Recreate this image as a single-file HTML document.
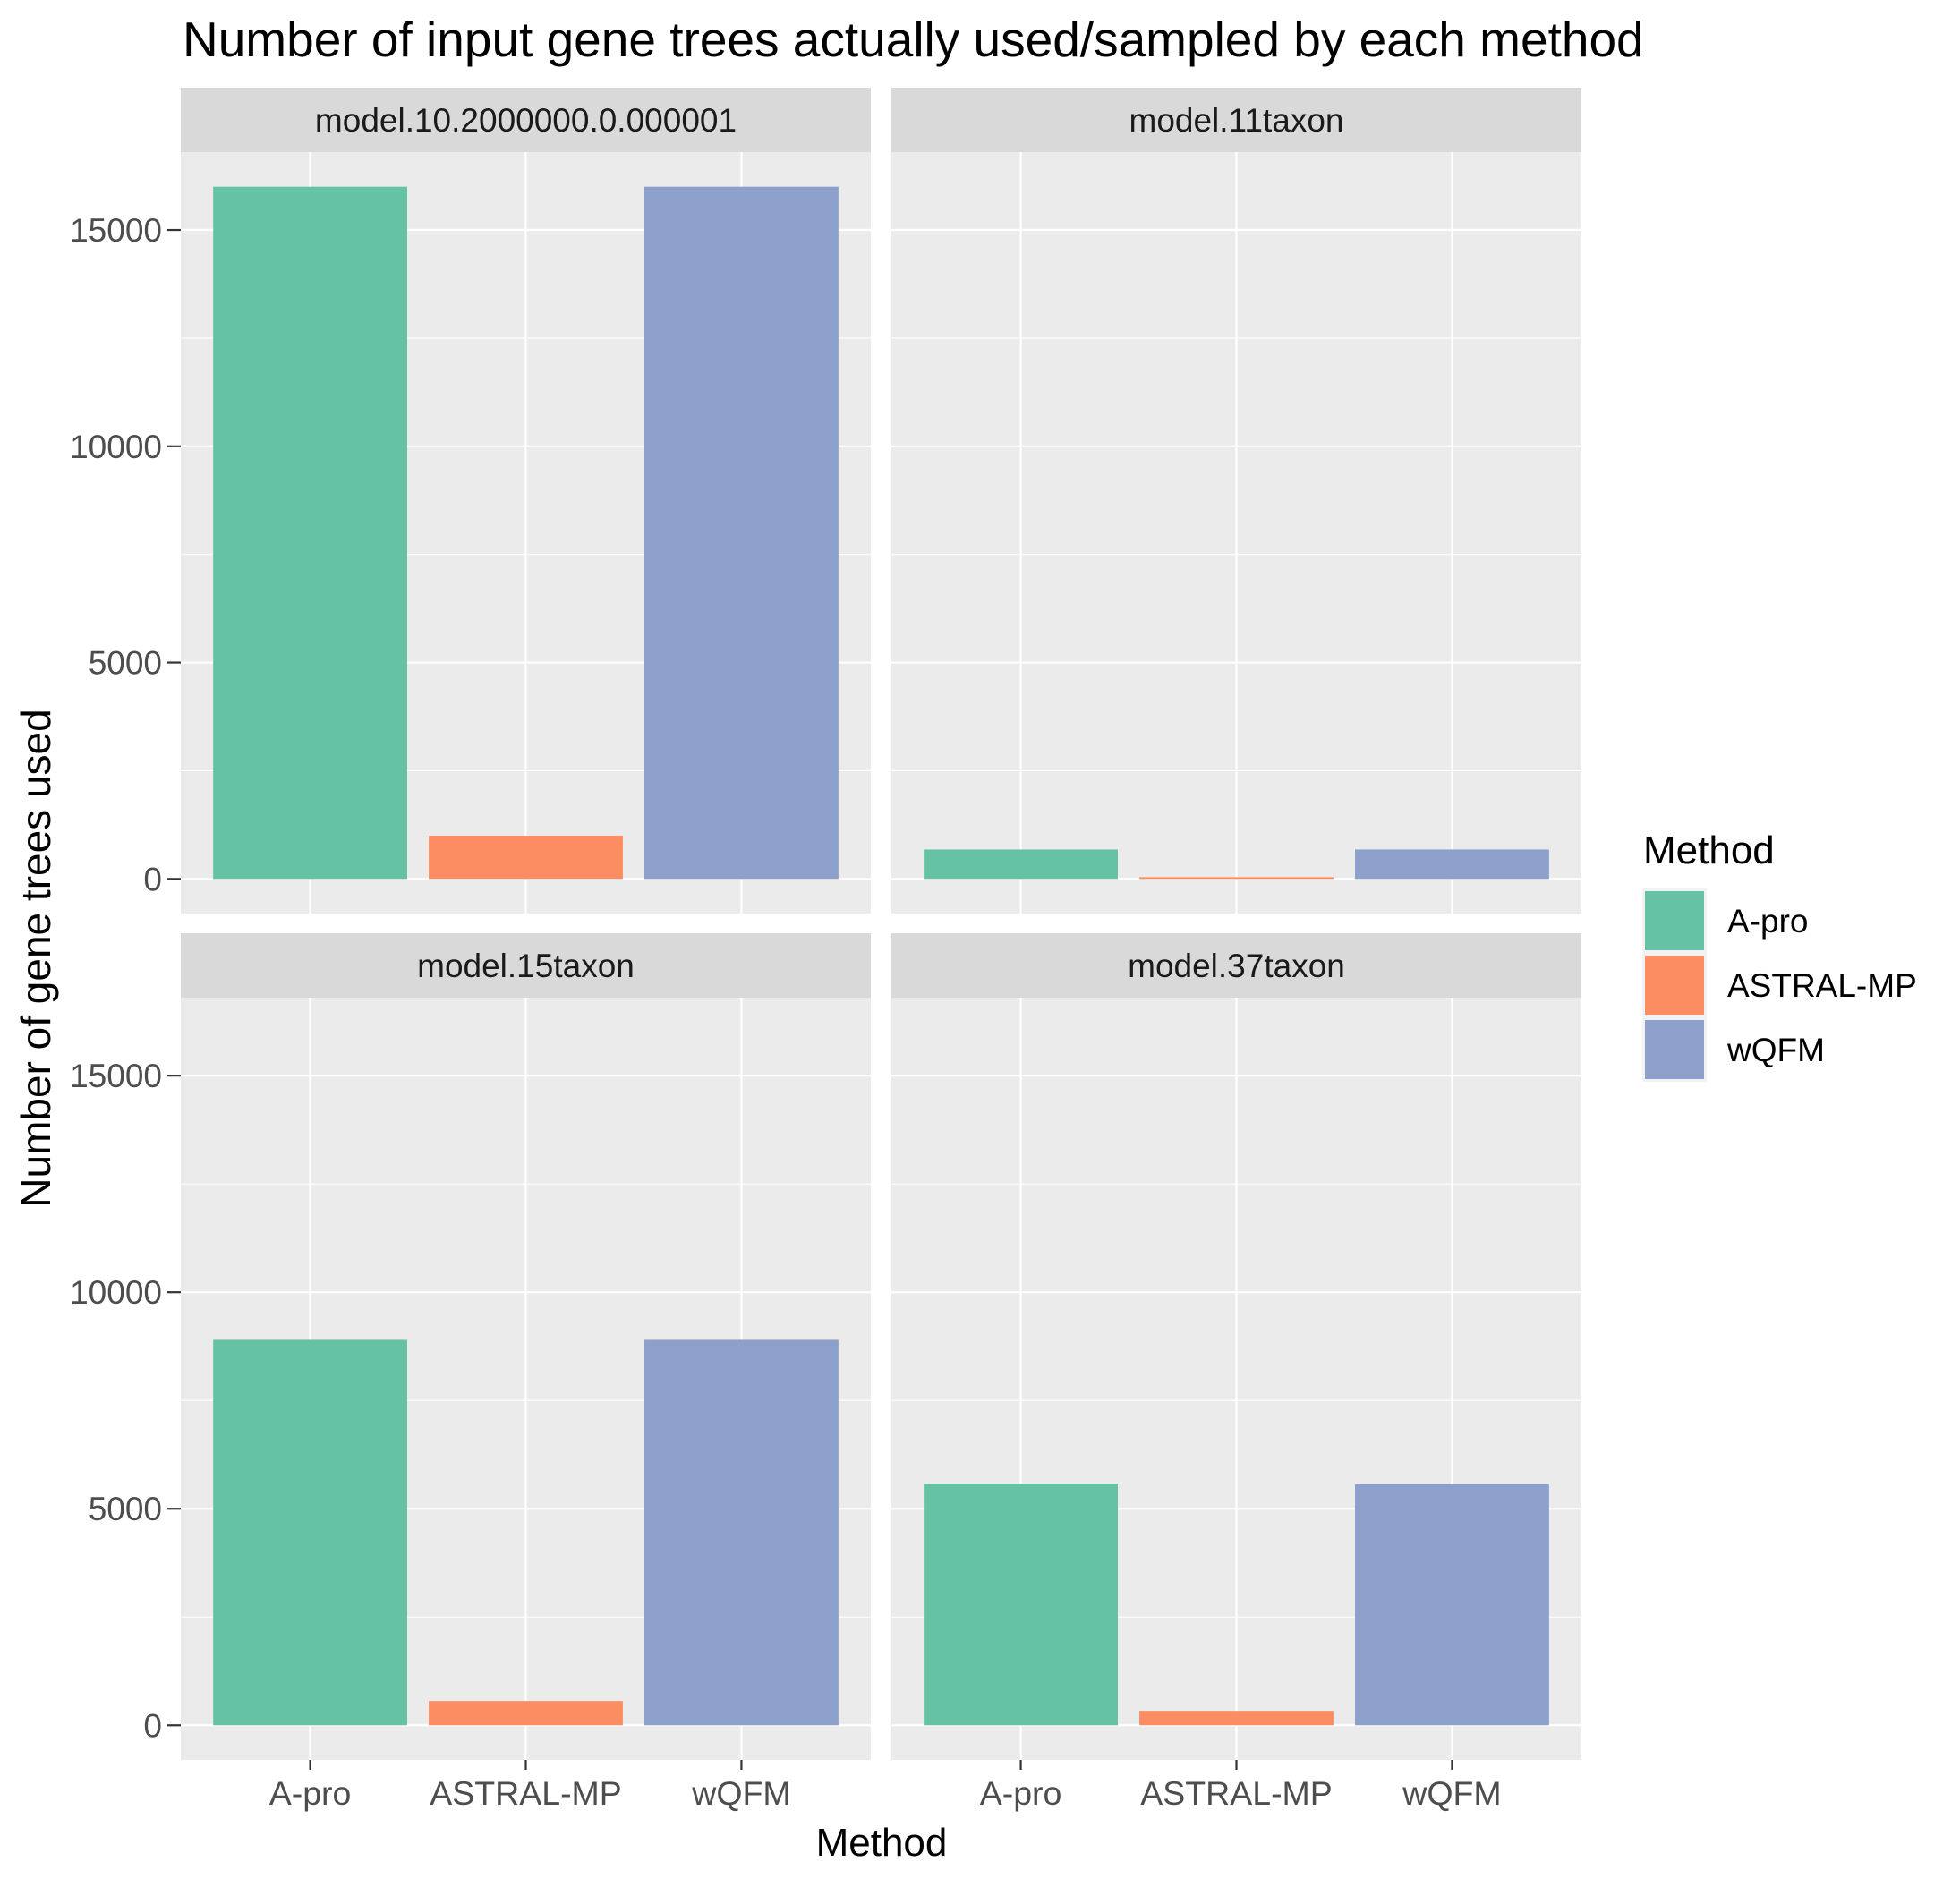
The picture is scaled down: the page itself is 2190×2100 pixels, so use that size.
<!DOCTYPE html>
<html><head><meta charset="utf-8"><style>
html,body{margin:0;padding:0;background:#fff}
svg{display:block;font-family:"Liberation Sans",Arial,sans-serif}
</style></head><body>
<svg id="chart" width="2190" height="2100" viewBox="0 0 2190 2100" xmlns="http://www.w3.org/2000/svg">
<rect width="2190" height="2100" fill="#fff"/>
<text x="204" y="63" font-size="55" fill="#000">Number of input gene trees actually used/sampled by each method</text>
<text transform="translate(56,1071) rotate(-90)" text-anchor="middle" font-size="46" fill="#000">Number of gene trees used</text>
<text x="985" y="2074" text-anchor="middle" font-size="44" fill="#000">Method</text>
<g id="panels"></g>
<g>
<text x="1836" y="965" font-size="44" fill="#000">Method</text>
<g id="legend-keys"></g>
</g>
</svg>
<script>
const facets = ["model.10.2000000.0.000001","model.11taxon","model.15taxon","model.37taxon"];
const methods = ["A-pro","ASTRAL-MP","wQFM"];
const colors = ["#66c2a5","#fc8d62","#8da0cb"];
const aproValues = [16000, 680, 8900, 5580];
const astralValues = [1000, 40, 560, 333];
const wqfmValues = [16000, 680, 8900, 5570];
const yTicks = [0, 5000, 10000, 15000];
const yMinor = [2500, 7500, 12500];
const yDomain = [-800, 16800];

const NS = "http://www.w3.org/2000/svg";
const series = [aproValues, astralValues, wqfmValues];
const panelX = [202, 996], panelW = 771;
const panelRows = [{strip:98, top:170, bottom:1021},{strip:1043, top:1115, bottom:1967}];
function mk(tag, attrs, parent){const e=document.createElementNS(NS,tag);for(const k in attrs)e.setAttribute(k,attrs[k]);parent.appendChild(e);return e;}
const root = document.getElementById("panels");
facets.forEach((f, fi) => {
  const col = fi % 2, row = Math.floor(fi / 2);
  const x0 = panelX[col], pr = panelRows[row];
  const yScale = v => pr.bottom - (v - yDomain[0]) / (yDomain[1] - yDomain[0]) * (pr.bottom - pr.top);
  const band = panelW / (methods.length + 0.2);
  const xScale = i => x0 + band * 0.6 + band * i;
  const g = mk("g", {}, root);
  
  
  const bg = mk("rect", {x:x0, y:pr.top, width:panelW, height:pr.bottom-pr.top, fill:"#ebebeb"}, g);
  
  
  yMinor.forEach(v => { const l = mk("line",{x1:x0,x2:x0+panelW,y1:yScale(v),y2:yScale(v),stroke:"#fff","stroke-width":1.1},g);
    
     });
  yTicks.forEach(v => { const l = mk("line",{x1:x0,x2:x0+panelW,y1:yScale(v),y2:yScale(v),stroke:"#fff","stroke-width":2.2},g);
    
     });
  methods.forEach((m, i) => { const l = mk("line",{x1:xScale(i),x2:xScale(i),y1:pr.top,y2:pr.bottom,stroke:"#fff","stroke-width":2.2},g);
    
     });
  methods.forEach((m, i) => {
    const v = series[i][fi];
    const bw = band * 0.9;
    const r = mk("rect",{x:xScale(i)-bw/2, y:yScale(v), width:bw, height:yScale(0)-yScale(v), fill:colors[i]}, g);
    
    
  });
  const st = mk("rect",{x:x0, y:pr.strip, width:panelW, height:pr.top-pr.strip, fill:"#d9d9d9"}, g);
  
  
  const stt = mk("text",{x:x0+panelW/2, y:(pr.strip+pr.top)/2+13, "text-anchor":"middle", "font-size":37, fill:"#1a1a1a"}, g);
  stt.textContent = f;
  
  
  if (col === 0) {
    yTicks.forEach(v => {
      const t = mk("line",{x1:187,x2:202,y1:yScale(v),y2:yScale(v),stroke:"#333","stroke-width":2.2},g);
      
      
      const tx = mk("text",{x:181, y:yScale(v)+13, "text-anchor":"end", "font-size":37, fill:"#4d4d4d"}, g);
      tx.textContent = v;
      
      
    });
  }
  if (row === 1) {
    methods.forEach((m, i) => {
      const t = mk("line",{x1:xScale(i),x2:xScale(i),y1:pr.bottom,y2:pr.bottom+11,stroke:"#333","stroke-width":2.2},g);
      
      
      const tx = mk("text",{x:xScale(i), y:2017, "text-anchor":"middle", "font-size":37.5, fill:"#4d4d4d"}, g);
      tx.textContent = m;
      
      
    });
  }
});
const lk = document.getElementById("legend-keys");
methods.forEach((m, i) => {
  const y = 993 + i * 72;
  const kb = mk("rect",{x:1835, y:y, width:72, height:72, fill:"#f2f2f2"}, lk);
  
  
  const k = mk("rect",{x:1838, y:y+3, width:66, height:66, fill:colors[i]}, lk);
  
  
  const t = mk("text",{x:1930, y:y+49, "font-size":37, fill:"#000"}, lk);
  t.textContent = m;
  
  
});
</script>
</body></html>
